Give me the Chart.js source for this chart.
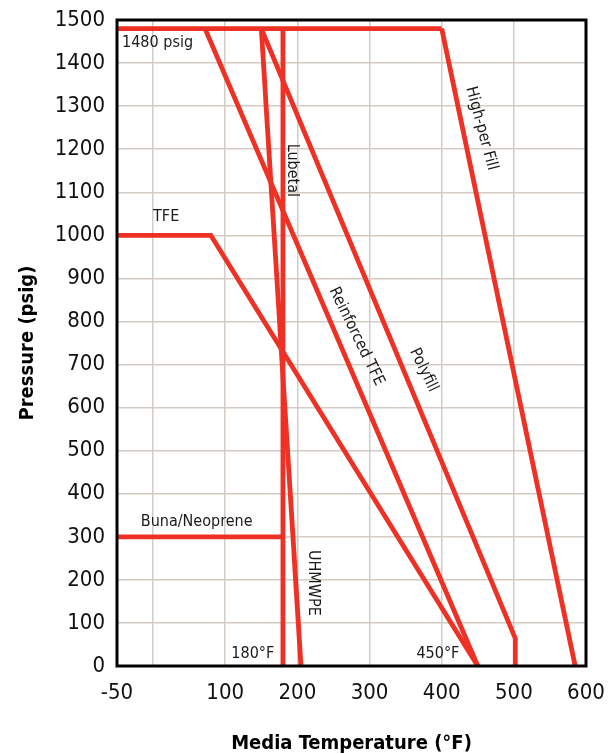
<!DOCTYPE html>
<html>
<head>
<meta charset="utf-8">
<script src="https://cdn.jsdelivr.net/npm/chart.js@4.4.1/dist/chart.umd.min.js"></script>
<style>
  html, body { margin: 0; padding: 0; background: #fff; }
  canvas { display: block; }
</style>
</head>
<body>
<canvas id="chart_pressure" width="616" height="754"></canvas>
<script>
// ***DATA***
const tempTicks = [-50, 0, 100, 200, 300, 400, 500, 600]
const pressureTicks = [0, 100, 200, 300, 400, 500, 600, 700, 800, 900, 1000, 1100, 1200, 1300, 1400, 1500]

const maxTemp = [-50, 400]
const maxPress = [1480, 1480]
const highPerTemp = [400, 585]
const highPerPress = [1480, 0]
const polyfillTemp = [150, 502, 502]
const polyfillPress = [1480, 64, 0]
const reinforcedTemp = [72, 450]
const reinforcedPress = [1480, 0]
const uhmwpeTemp = [150, 205]
const uhmwpePress = [1480, 0]
const lubetalTemp = [180, 180]
const lubetalPress = [1480, 0]
const tfeTemp = [-50, 80, 450]
const tfePress = [1000, 1000, 0]
const bunaTemp = [-50, 180]
const bunaPress = [300, 300]

// labels: text, temp, pressure, rotation deg, align
const labelText = ['1480 psig', 'TFE', 'Buna/Neoprene', '180°F', '450°F', 'Lubetal', 'Reinforced TFE', 'Polyfill', 'High-per Fill', 'UHMWPE']
const labelTemp = [-43, 0, -17, 168, 365, 193, 282, 375, 455, 222]
const labelPress = [1447, 1043, 335, 29, 29, 1151, 765, 687, 1248, 193]
const labelAngle = [0, 0, 0, 0, 0, 90, 64, 64, 75, 90]
const labelAlign = ['left', 'left', 'left', 'right', 'left', 'center', 'center', 'center', 'center', 'center']

const RED = '#ee3124'
const FONT = '"Liberation Sans Narrow", "DejaVu Sans Condensed", "Liberation Sans", sans-serif'

function series(xs, ys) {
  return xs.map((x, i) => ({x: x, y: ys[i]}))
}

function line(xs, ys) {
  return {
    data: series(xs, ys),
    showLine: true,
    borderColor: RED,
    borderWidth: 4.8,
    pointRadius: 0,
    borderJoinStyle: 'miter',
    tension: 0,
    clip: false
  }
}

const labelsPlugin = {
  id: 'labels',
  afterDatasetsDraw(chart) {
    const ctx = chart.ctx
    const xs = chart.scales.x
    const ys = chart.scales.y
    ctx.save()
    ctx.fillStyle = '#1a1a1a'
    ctx.font = '16px ' + FONT
    ctx.textBaseline = 'middle'
    labelText.forEach((t, i) => {
      ctx.save()
      ctx.translate(xs.getPixelForValue(labelTemp[i]), ys.getPixelForValue(labelPress[i]))
      ctx.rotate(labelAngle[i] * Math.PI / 180)
      ctx.textAlign = labelAlign[i]
      ctx.fillText(t, 0, 0)
      ctx.restore()
    })
    // frame round the plot area
    const a = chart.chartArea
    ctx.strokeStyle = '#000'
    ctx.lineWidth = 3
    ctx.strokeRect(a.left, a.top, a.right - a.left, a.bottom - a.top)
    ctx.restore()
  }
}

const chart_pressure = document.getElementById('chart_pressure').getContext('2d')

const mychart = new Chart(chart_pressure, {
  type: 'scatter',
  data: {
    datasets: [
      line(maxTemp, maxPress),
      line(highPerTemp, highPerPress),
      line(polyfillTemp, polyfillPress),
      line(reinforcedTemp, reinforcedPress),
      line(uhmwpeTemp, uhmwpePress),
      line(lubetalTemp, lubetalPress),
      line(tfeTemp, tfePress),
      line(bunaTemp, bunaPress)
    ]
  },
  options: {
    responsive: false,
    animation: false,
    layout: {padding: {left: 0, right: 30, top: 20, bottom: 0}},
    plugins: {legend: {display: false}, tooltip: {enabled: false}},
    scales: {
      x: {
        type: 'linear',
        min: -50,
        max: 600,
        afterBuildTicks: (s) => { s.ticks = tempTicks.map(v => ({value: v})) },
        afterFit: (s) => {
          s.height = 88
          s.paddingLeft = 0
          s.paddingRight = 0
        },
        ticks: {
          color: '#111',
          font: {family: FONT, size: 22},
          padding: 14,
          maxRotation: 0,
          callback: (v) => v === 0 ? '' : String(v)
        },
        grid: {color: '#d4ccc4', lineWidth: 1.5, drawTicks: false},
        border: {display: false},
        title: {
          display: true,
          text: 'Media Temperature (°F)',
          color: '#000',
          font: {family: FONT, size: 20, weight: 'bold', lineHeight: 1},
          padding: {top: 3, bottom: 0}
        }
      },
      y: {
        type: 'linear',
        min: 0,
        max: 1500,
        afterBuildTicks: (s) => { s.ticks = pressureTicks.map(v => ({value: v})) },
        afterFit: (s) => {
          s.width = 117
          s.paddingTop = 0
          s.paddingBottom = 0
        },
        ticks: {
          color: '#111',
          font: {family: FONT, size: 22},
          padding: 12,
          callback: (v) => String(v)
        },
        grid: {color: '#d4ccc4', lineWidth: 1.5, drawTicks: false},
        border: {display: false},
        title: {
          display: true,
          text: 'Pressure (psig)',
          color: '#000',
          font: {family: FONT, size: 20, weight: 'bold', lineHeight: 1},
          padding: {top: 18, bottom: 0}
        }
      }
    }
  },
  plugins: [labelsPlugin]
})
</script>
</body>
</html>
